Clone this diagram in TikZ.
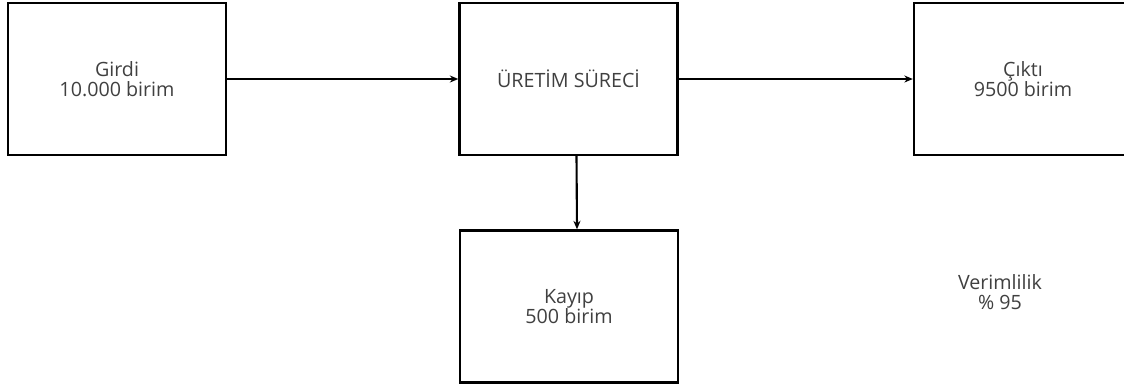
\documentclass[tikz,border=0pt]{standalone}
\usepackage{fontspec}
\setmainfont{Open Sans}
\usetikzlibrary{positioning,arrows.meta}

\begin{document}
\begin{tikzpicture}[x=0.025cm, y=-0.025cm,
    box/.style={rectangle, draw, line width=1.7pt, minimum width=5.45cm, minimum height=3.8cm, align=center, text=black!75, font=\fontsize{14}{14}\selectfont},
    arrow/.style={-{Stealth[length=6pt, width=5pt]}, line width=1.5pt}
]
    \useasboundingbox (0,0) rectangle (1124,389);

    \node[box] (girdi) at (117, 79) {Girdi\\10.000 birim};
    \node[box] (surec) at (568.5, 79) {ÜRETİM SÜRECİ};
    \node[box] (cikti) at (1023, 79) {Çıktı\\9500 birim};
    \node[box] (kayip) at (569, 306.5) {Kayıp\\500 birim};

    \node[align=center, text=black!75, font=\fontsize{14}{14}\selectfont] (verim) at (1000, 292) {Verimlilik\\\% 95};

    \draw[arrow] (girdi) -- (surec);
    \draw[arrow] (surec) -- (cikti);
    \draw[arrow] ([xshift=0.2cm]surec.south) -- ([xshift=0.2cm]kayip.north);
\end{tikzpicture}
\end{document}
